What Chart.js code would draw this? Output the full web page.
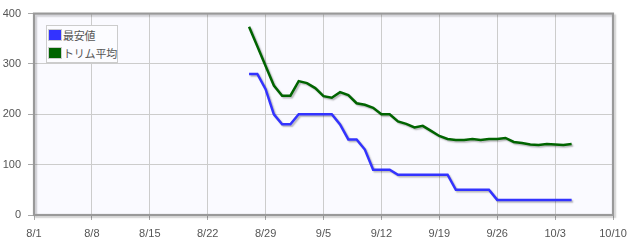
<!DOCTYPE html>
<html>
<head>
<meta charset="utf-8">
<script src="https://cdn.jsdelivr.net/npm/chart.js@4.4.1/dist/chart.umd.min.js"></script>
<style>
html,body{margin:0;padding:0;background:#fff;}
#wrap{position:relative;width:636px;height:245px;}
#legend{position:absolute;left:46px;top:25px;width:70px;height:36px;border:1px solid #ccc;background:#fcfcff;font-family:"Noto Sans CJK JP","Liberation Sans",sans-serif;font-size:11px;color:#555;}
.item{position:absolute;left:1px;height:12px;line-height:12px;white-space:nowrap;letter-spacing:-0.2px;}
.sw{display:inline-block;vertical-align:top;width:12px;height:10px;border:1px solid #ccc;padding:0;margin-right:1px;}
</style>
</head>
<body>
<div id="wrap">
<canvas id="c" width="636" height="245"></canvas>
<div id="legend">
  <div class="item" style="top:3px"><span class="sw" style="background:#3333ff"></span>最安値</div>
  <div class="item" style="top:21px"><span class="sw" style="background:#006400"></span>トリム平均</div>
</div>
</div>
<script>
const dates = ['8/27','8/28','8/29','8/30','8/31','9/1','9/2','9/3','9/4','9/5','9/6','9/7','9/8','9/9','9/10','9/11','9/12','9/13','9/14','9/15','9/16','9/17','9/18','9/19','9/20','9/21','9/22','9/23','9/24','9/25','9/26','9/27','9/28','9/29','9/30','10/1','10/2','10/3','10/4','10/5'];
const minPrice = [280,280,250,200,180,180,200,200,200,200,200,180,150,150,130,90,90,90,80,80,80,80,80,80,80,50,50,50,50,50,30,30,30,30,30,30,30,30,30,30];
const trimAvg = [374,335,296,257,237,237,266,262,252,236,233,244,238,222,219,213,200,200,186,181,174,177,167,157,151,149,149,151,149,151,151,153,145,143,140,139,141,140,139,141];
const xTickLabels = ['8/1','8/8','8/15','8/22','8/29','9/5','9/12','9/19','9/26','10/3','10/10'];
const yTicks = [0,100,200,300,400];

const monthStart = {8:0, 9:31, 10:61};
function dayIndex(s){ const [m,d]=s.split('/').map(Number); return monthStart[m]+d-1; }
const pts = arr => arr.map((v,i)=>({x:dayIndex(dates[i]), y:v}));

const plotBg = {
  id:'plotBg',
  beforeDraw(chart){
    const {ctx, chartArea:a} = chart;
    ctx.save(); ctx.fillStyle='#fafaff'; ctx.fillRect(a.left,a.top,a.right-a.left,a.bottom-a.top); ctx.restore();
  },
  afterDraw(chart){
    const {ctx, chartArea:a} = chart;
    ctx.save();
    ctx.shadowColor='rgba(0,0,0,0.18)'; ctx.shadowOffsetX=2; ctx.shadowOffsetY=2; ctx.shadowBlur=1.5;
    ctx.strokeStyle='#999'; ctx.lineWidth=2.2;
    ctx.strokeRect(a.left,a.top,a.right-a.left,a.bottom-a.top);
    ctx.restore();
  },
  beforeDatasetDraw(chart){
    const ctx=chart.ctx; ctx.save();
    ctx.shadowColor='rgba(0,0,0,0.28)'; ctx.shadowOffsetX=1.5; ctx.shadowOffsetY=1.5; ctx.shadowBlur=1.5;
  },
  afterDatasetDraw(chart){ chart.ctx.restore(); }
};

new Chart(document.getElementById('c'), {
  type:'line',
  data:{datasets:[
    {label:'最安値', data:pts(minPrice), borderColor:'#3333ff', borderWidth:2.5, pointRadius:0, tension:0, fill:false},
    {label:'トリム平均', data:pts(trimAvg), borderColor:'#006400', borderWidth:2.5, pointRadius:0, tension:0, fill:false}
  ]},
  options:{
    responsive:false, animation:false, devicePixelRatio:1,
    layout:{padding:{top:13,right:23,left:0,bottom:0}},
    plugins:{legend:{display:false}, tooltip:{enabled:false}},
    scales:{
      x:{type:'linear', min:0, max:70,
        afterFit(s){ s.height=30; },
        afterBuildTicks(s){ s.ticks = xTickLabels.map((l,i)=>({value:i*7})); },
        ticks:{callback:(v,i)=>xTickLabels[i], color:'#555', font:{family:'Liberation Sans', size:11}, padding:7, maxRotation:0, autoSkip:false},
        grid:{color:'#cccccc', lineWidth:1, tickLength:5, tickColor:'#aaa'},
        border:{display:false}
      },
      y:{min:0, max:400,
        afterFit(s){ s.width=34; },
        afterBuildTicks(s){ s.ticks = yTicks.map(v=>({value:v})); },
        ticks:{color:'#555', font:{family:'Liberation Sans', size:11}, padding:7},
        grid:{color:'#cccccc', lineWidth:1, tickLength:6, tickColor:'#aaa'},
        border:{display:false}
      }
    }
  },
  plugins:[plotBg]
});
</script>
</body>
</html>
